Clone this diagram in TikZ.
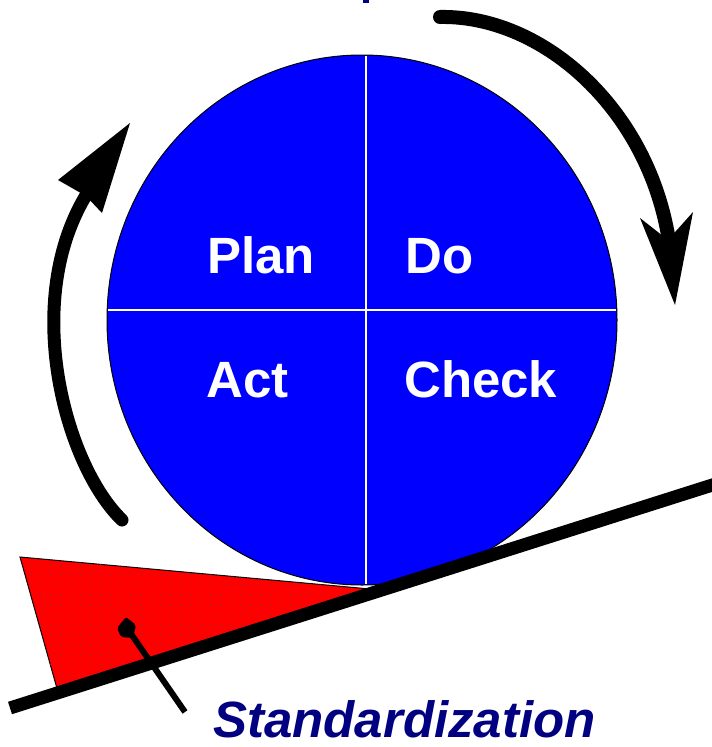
\documentclass[tikz,border=0pt]{standalone}
\usepackage{fontspec}
\setmainfont{Liberation Sans}
\definecolor{pdblue}{RGB}{0,0,255}
\definecolor{navy}{RGB}{0,0,128}
\definecolor{pdred}{RGB}{255,0,0}
\begin{document}
\begin{tikzpicture}[x=1pt,y=-1pt,
  label/.style={text=white,font=\bfseries\fontsize{51}{51}\selectfont,anchor=base west,inner sep=0pt},
  bigarrow/.style={line width=14pt,line cap=round},
  divider/.style={white,line width=2pt}]
\useasboundingbox (0,0) rectangle (712,747);
% tiny fragment at top
\fill[navy] (363,0) rectangle (369,3);
% red wedge with dots
\coordinate (w1) at (20,557);
\coordinate (w2) at (370,589);
\coordinate (w3) at (58,692);
\filldraw[fill=pdred,draw=black,line width=1pt] (w1) -- (w2) -- (w3) -- cycle;
\begin{scope}
\clip (w1) -- (w2) -- (w3) -- cycle;
\foreach \i in {0,...,36}{\foreach \j in {0,...,14}{
  \fill[black!70] (20+10*\i,554+10*\j) rectangle ++(1.2,1.2);}}
\end{scope}
% circle
\coordinate (c) at (362,320);
\filldraw[fill=pdblue,draw=black,line width=1pt] (c) ellipse [x radius=255,y radius=265];
\begin{scope}
\clip (c) ellipse [x radius=254,y radius=264];
\draw[divider] (366,50) -- (366,590);
\draw[divider] (100,310) -- (620,310);
\end{scope}
% ground line
\coordinate (g1) at (10,708);
\coordinate (g2) at (725,481);
\draw[line width=13pt] (g1) -- (g2);
% pointer
\coordinate (k) at (127,628);
\coordinate (p) at (185,712);
\draw[line width=6pt] (k) -- (p);
\fill[rounded corners=2pt] (117,628) -- (126,617) -- (136,625) -- (133,638) -- (121,637) -- cycle;
% right arrow
\coordinate (ra) at (440,17);
\coordinate (rn) at (668,235);
\draw[bigarrow] (ra) .. controls (540,15) and (645,105) .. (rn);
\fill (640,218) -- (668,240) -- (693,212) -- (675,305) -- cycle;
% left arrow
\coordinate (la) at (122,520);
\coordinate (ln) at (88,192);
\draw[bigarrow,line width=13pt] (la) .. controls (65,465) and (20,300) .. (ln);
\fill (58,180) -- (130,123) -- (102,213) -- (86,196) -- cycle;
% labels
\node[label] (plan) at (207,273) {Plan};
\node[label] (do) at (405,273) {Do};
\node[label] (act) at (206,397) {Act};
\node[label] (check) at (404,397) {Check};
\node[text=navy,font=\bfseries\itshape\fontsize{51}{51}\selectfont,anchor=base west,inner sep=0pt] (std) at (213,737) {Standardization};
\end{tikzpicture}
\end{document}
